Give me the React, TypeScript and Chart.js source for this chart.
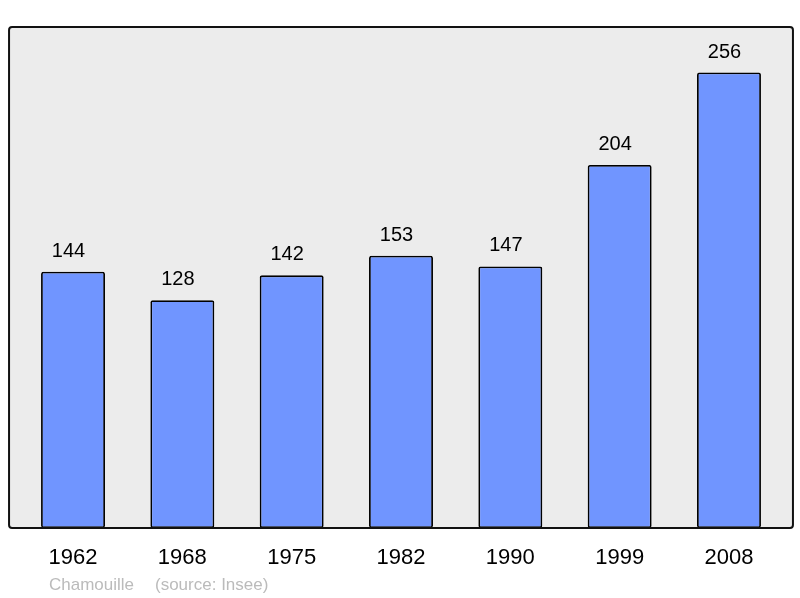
import React, { useRef, useEffect } from "react";
import Chart from "chart.js/auto";

const years = ["1962", "1968", "1975", "1982", "1990", "1999", "2008"];
const population = [144, 128, 142, 153, 147, 204, 256];
const commune = "Chamouille";
const source = "(source: Insee)";

const FONT = "'Liberation Sans', Arial, sans-serif";

// frame drawn a bit wider than the chart area, like the original svg
const framePlugin = {
  id: "frame",
  beforeDatasetsDraw(chart: any) {
    const { ctx, chartArea } = chart;
    const x = chartArea.left - 9.3;
    const w = chartArea.right - chartArea.left + 18.6;
    const y = chartArea.top;
    const h = chartArea.bottom - chartArea.top;
    ctx.save();
    ctx.beginPath();
    ctx.roundRect(x, y, w, h, 3);
    ctx.fillStyle = "#ececec";
    ctx.fill();
    ctx.restore();
  },
  afterDatasetsDraw(chart: any) {
    const { ctx, chartArea } = chart;
    const x = chartArea.left - 9.3;
    const w = chartArea.right - chartArea.left + 18.6;
    ctx.save();
    ctx.beginPath();
    ctx.roundRect(x, chartArea.top, w, chartArea.bottom - chartArea.top, 3);
    ctx.lineWidth = 2;
    ctx.strokeStyle = "#111";
    ctx.stroke();
    ctx.restore();
  },
};

const labelsPlugin = {
  id: "labels",
  afterDraw(chart: any) {
    const { ctx, scales } = chart;
    const xs = scales.x;
    const ys = scales.y;
    ctx.save();
    ctx.textAlign = "center";
    ctx.textBaseline = "middle";
    ctx.fillStyle = "#000";
    ctx.font = `20px ${FONT}`;
    population.forEach((v, i) => {
      ctx.fillText(String(v), xs.getPixelForValue(i) - 4.5, ys.getPixelForValue(v) - 20.5);
    });
    ctx.font = `22px ${FONT}`;
    years.forEach((y, i) => {
      ctx.fillText(y, xs.getPixelForValue(i), 558);
    });
    ctx.textAlign = "left";
    ctx.font = `17px ${FONT}`;
    ctx.fillStyle = "#bbbbbb";
    ctx.fillText(commune, 49, 585);
    ctx.fillText(source, 155, 585);
    ctx.restore();
  },
};

const App: React.FC = () => {
  const chartRef = useRef<HTMLCanvasElement | null>(null);
  const chartInstance = useRef<Chart | null>(null);

  useEffect(() => {
    document.body.style.margin = "0";
    if (chartInstance.current) {
      chartInstance.current.destroy();
    }
    if (chartRef.current) {
      chartInstance.current = new Chart(chartRef.current, {
        type: "bar",
        data: {
          labels: years,
          datasets: [
            {
              data: population,
              backgroundColor: "#7095ff",
              borderColor: "#000",
              borderWidth: 1.8,
              borderRadius: 2,
              borderSkipped: false,
              barPercentage: 0.585,
              categoryPercentage: 1,
            },
          ],
        },
        options: {
          animation: false,
          responsive: false,
          layout: { padding: { left: 18.35, right: 16.35, top: 27, bottom: 70 } },
          plugins: { legend: { display: false }, tooltip: { enabled: false } },
          scales: {
            x: { display: false },
            y: { display: false, min: 0, max: 281.6 },
          },
        },
        plugins: [framePlugin, labelsPlugin],
      });
    }
    return () => {
      if (chartInstance.current) {
        chartInstance.current.destroy();
        chartInstance.current = null;
      }
    };
  }, []);

  return (
    <div style={{ width: 800, height: 598 }}>
      <canvas ref={chartRef} width="800" height="598"></canvas>
    </div>
  );
};

export default App;
